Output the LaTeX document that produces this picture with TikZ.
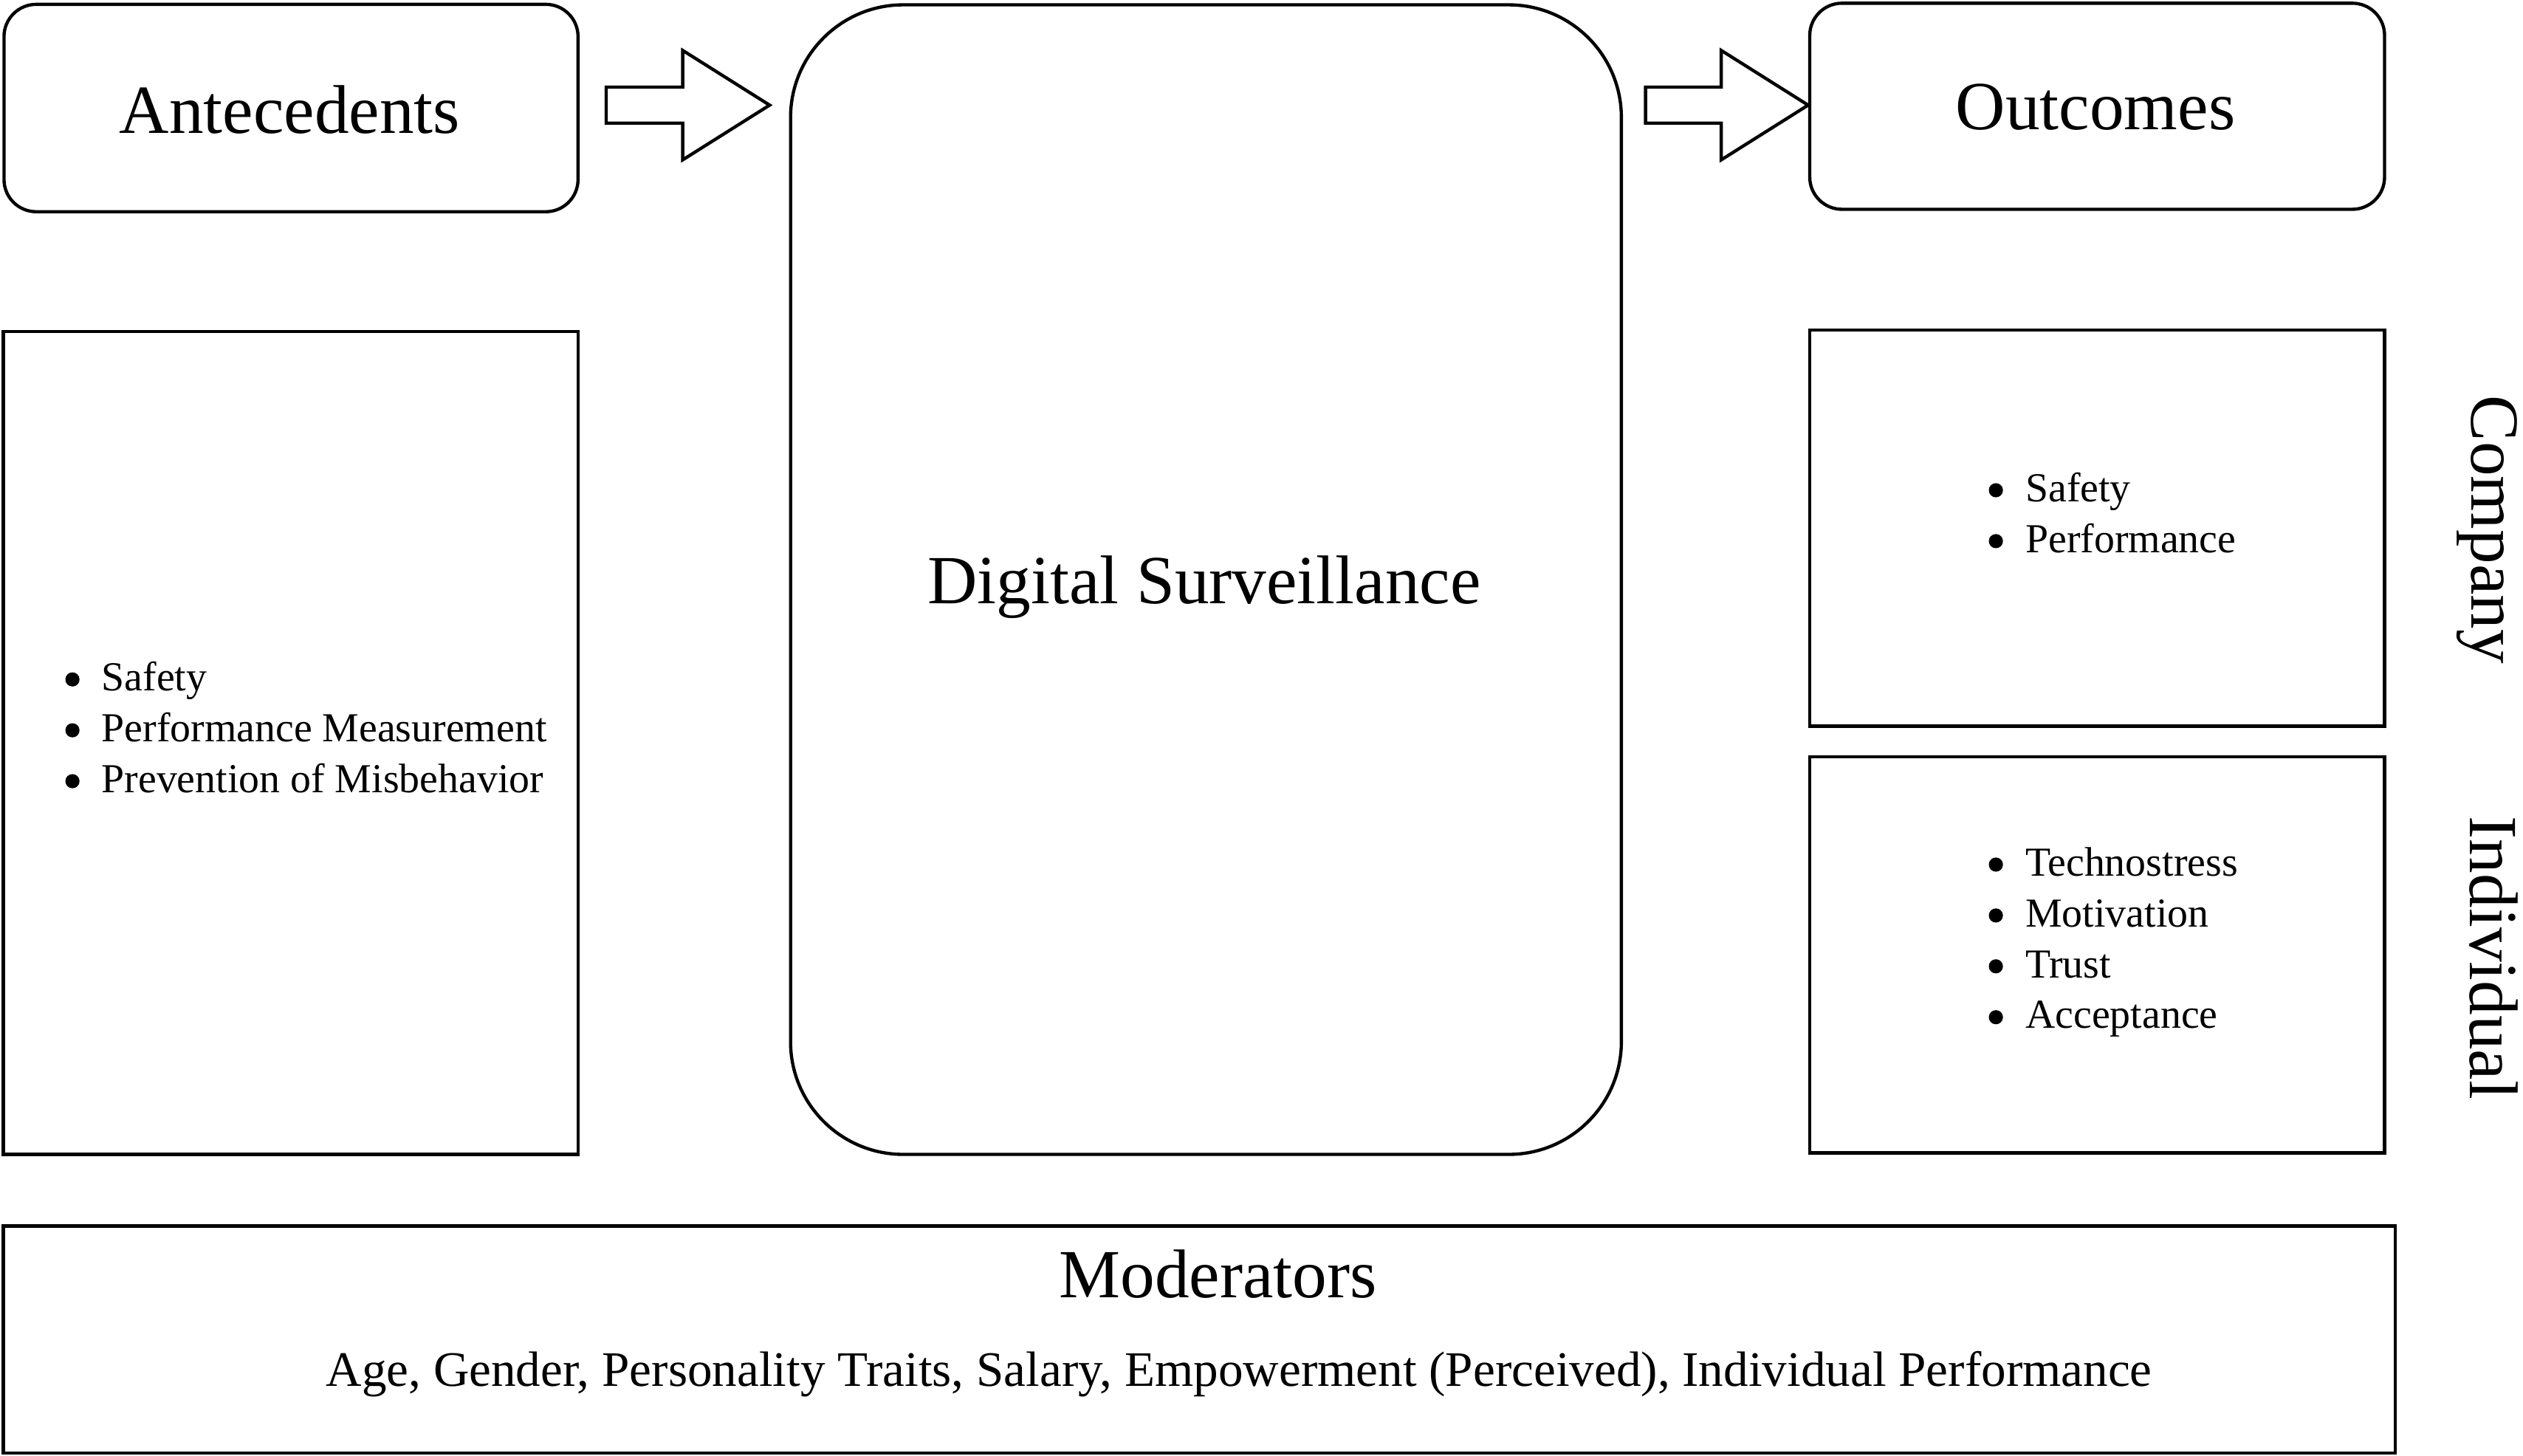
\documentclass[tikz,border=0pt]{standalone}
\usepackage{fontspec}
\setmainfont{Liberation Serif}
\usetikzlibrary{calc}
\begin{document}
\begin{tikzpicture}[x=0.5pt,y=-0.5pt,
  box/.style={draw=black, line width=1pt, inner sep=0pt},
  bigtext/.style={font=\fontsize{21.4}{25}\selectfont, inner sep=0pt},
  lsttext/.style={font=\fontsize{12.8}{15.8}\selectfont, inner sep=0pt, anchor=base west},
  modtext/.style={font=\fontsize{15.4}{18}\selectfont, inner sep=0pt, anchor=base},
  bulletdot/.style={fill=black},
  barrow/.style={draw=black, line width=1pt, line join=miter}
]
\useasboundingbox (0,0) rectangle (1567,904.3);

% boxes
\node[box, rounded corners=10pt, minimum width=178.25pt, minimum height=64.4pt] (ant) at (180.75,67.1) {};
\node[bigtext, anchor=base] (anttext) at (180,82.6) {Antecedents};
\node[box, minimum width=178.6pt, minimum height=255.5pt] (antlist) at (180.6,461.5) {};
\node[box, rounded corners=35pt, minimum width=258pt, minimum height=357pt] (ds) at (749,360) {};
\node[bigtext, anchor=base] (dstext) at (748,375) {Digital Surveillance};
\node[box, rounded corners=10pt, minimum width=178.5pt, minimum height=64pt] (out) at (1302.5,66) {};
\node[bigtext, anchor=base] (outtext) at (1301.5,80.3) {Outcomes};
\node[box, minimum width=178.5pt, minimum height=123pt] (comp) at (1302.5,328) {};
\node[box, minimum width=178.5pt, minimum height=123pt] (indiv) at (1302.5,593) {};
\node[box, minimum width=742.75pt, minimum height=70.5pt] (mod) at (744.75,832) {};

% lists
\node[lsttext] (antitems) at (62.7,429) {\begin{tabular}[t]{@{}l@{}}Safety\\Performance Measurement\\Prevention of Misbehavior\end{tabular}};
\node[lsttext] (compitems) at (1257.6,311.5) {\begin{tabular}[t]{@{}l@{}}Safety\\Performance\end{tabular}};
\node[lsttext] (indivitems) at (1257.6,544) {\begin{tabular}[t]{@{}l@{}}Technostress\\Motivation\\Trust\\Acceptance\end{tabular}};
\foreach \i in {0,1,2} \fill[bulletdot] ($(antitems.base west)+(-17.7,\i*31.6-7)$) circle (2.2pt);
\foreach \i in {0,1} \fill[bulletdot] ($(compitems.base west)+(-18,\i*31.6-7)$) circle (2.2pt);
\foreach \i in {0,1,2,3} \fill[bulletdot] ($(indivitems.base west)+(-18,\i*31.6-7)$) circle (2.2pt);

% side labels
\node[bigtext, rotate=-90, anchor=base] (complabel) at (1535,329) {Company};
\node[bigtext, rotate=-90, anchor=base] (indivlabel) at (1534,595) {Individual};

% moderators
\node[bigtext, anchor=base] (modtitle) at (756.5,806) {Moderators};
\node[modtext] (modlist) at (769.5,861) {Age, Gender, Personality Traits, Salary, Empowerment (Perceived), Individual Performance};

% block arrows
\coordinate (a1s) at (376.5,65.3);
\coordinate (a1e) at (478,65.3);
\coordinate (a2s) at (1022,65.3);
\coordinate (a2e) at (out.west |- a2s);
\foreach \s/\e in {a1s/a1e, a2s/a2e}{
  \draw[barrow] let \p1=(\s), \p2=(\e) in
    (\x1,\y1+5.6pt) -- (\x2-27pt,\y1+5.6pt) -- (\x2-27pt,\y1+17pt) -- (\x2,\y1)
    -- (\x2-27pt,\y1-17pt) -- (\x2-27pt,\y1-5.6pt) -- (\x1,\y1-5.6pt) -- cycle;
}
\end{tikzpicture}
\end{document}
